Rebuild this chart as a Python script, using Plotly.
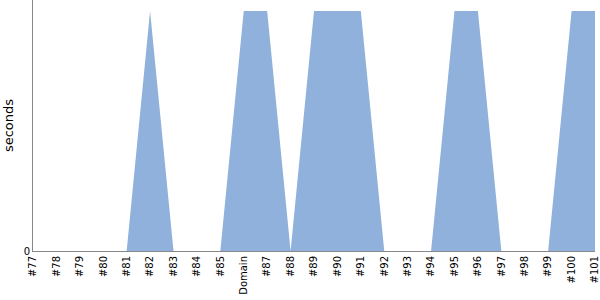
import plotly.graph_objects as go

categories = ["#77", "#78", "#79", "#80", "#81", "#82", "#83", "#84", "#85", "Domain",
              "#87", "#88", "#89", "#90", "#91", "#92", "#93", "#94", "#95", "#96",
              "#97", "#98", "#99", "#100", "#101"]
seconds = [0, 0, 0, 0, 0, 1, 0, 0, 0, 1,
           1, 0, 1, 1, 1, 0, 0, 0, 1, 1,
           0, 0, 0, 1, 1]

fig = go.Figure()
fig.add_trace(go.Scatter(
    x=categories, y=seconds, mode="none", fill="tozeroy",
    fillcolor="#8fb1db", hoverinfo="skip",
))

fig.update_layout(
    width=600, height=300,
    margin=dict(l=33, r=5, t=0, b=49),
    plot_bgcolor="white", paper_bgcolor="white",
    showlegend=False,
    font=dict(family="DejaVu Sans", size=10, color="black"),
)
fig.update_xaxes(
    type="category", range=[0, len(categories) - 1],
    tickangle=-90, showgrid=False, zeroline=False,
    showline=True, linecolor="#888888", linewidth=1,
    ticks="", tickfont=dict(size=10),
)
fig.update_yaxes(
    range=[0, 1.046], tickvals=[0], ticktext=["0"],
    showgrid=False, zeroline=False,
    showline=True, linecolor="#888888", linewidth=1,
    ticks="", title=dict(text="seconds", font=dict(size=13), standoff=7),
)

fig.write_html("out.html")
